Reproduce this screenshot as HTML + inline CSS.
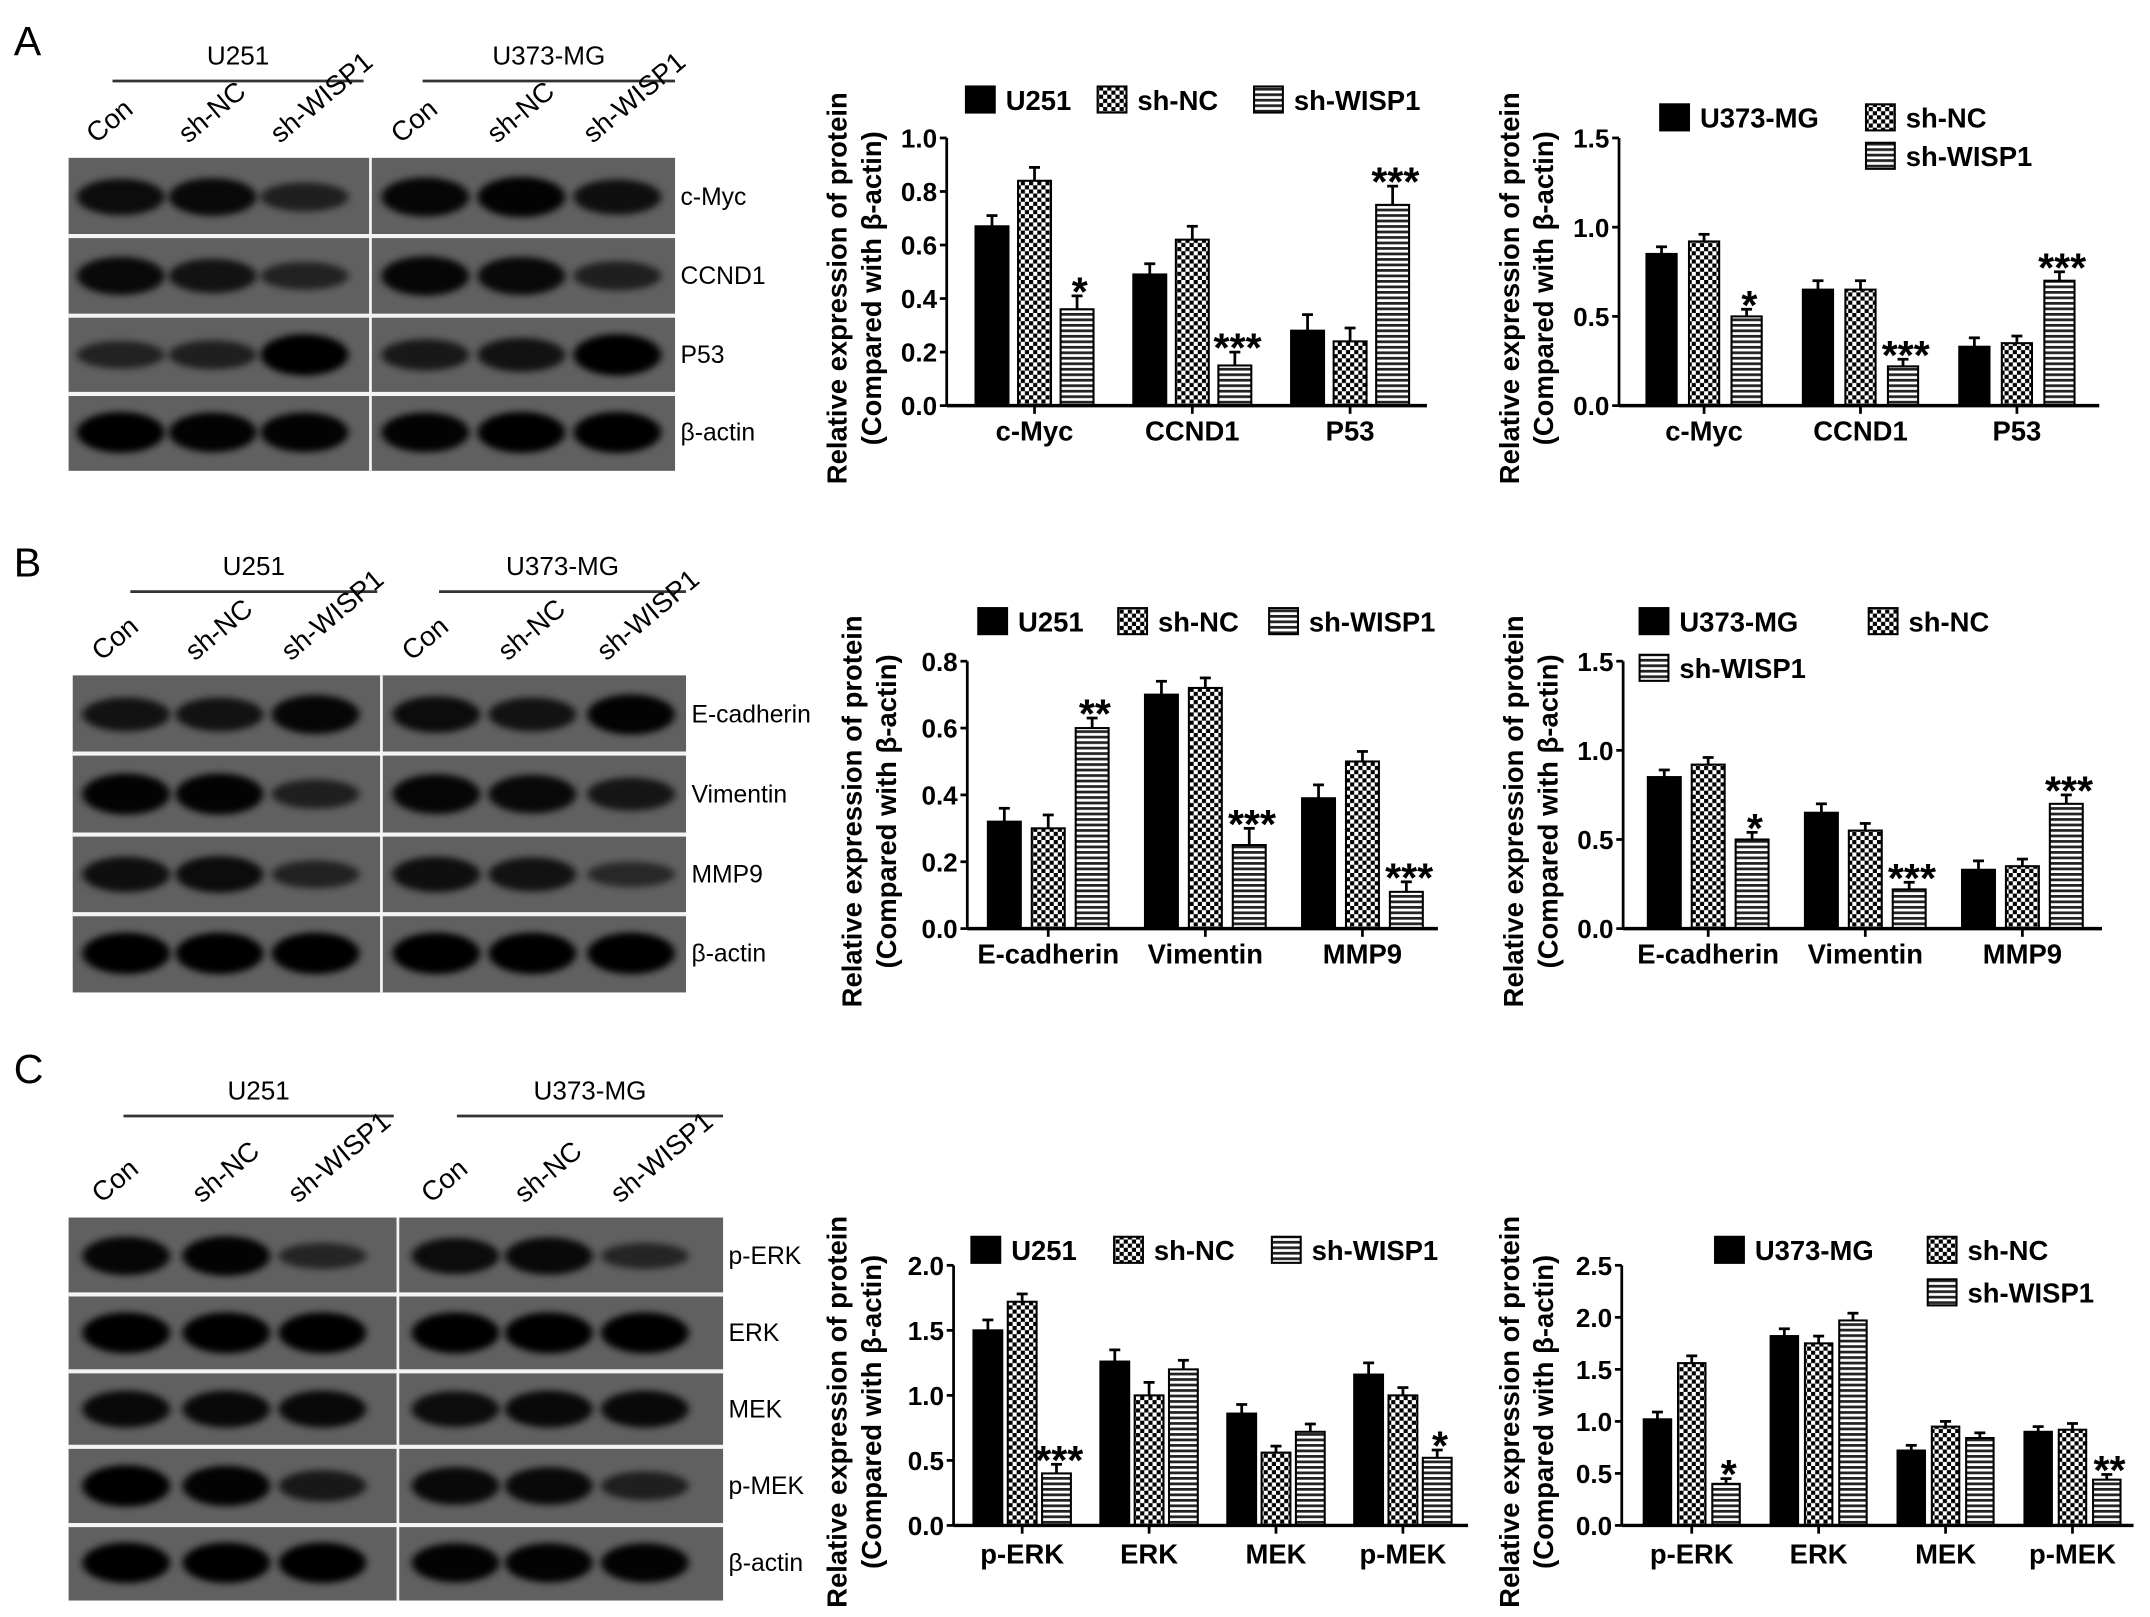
<!DOCTYPE html>
<html><head><meta charset="utf-8"><style>
html,body{margin:0;padding:0;background:#fff;}
svg{display:block;}
text{font-family:"Liberation Sans",Arial,sans-serif;}
</style></head><body>
<svg id="fig" width="2150" height="1617" viewBox="0 0 1567 1178" preserveAspectRatio="none" xmlns="http://www.w3.org/2000/svg">
<defs>
<pattern id="chk" width="6" height="6" patternUnits="userSpaceOnUse"><rect width="6" height="6" fill="#fff"/><rect width="3" height="3" fill="#000"/><rect x="3" y="3" width="3" height="3" fill="#000"/></pattern>
<pattern id="hs" width="4" height="4" patternUnits="userSpaceOnUse"><rect width="4" height="4" fill="#fff"/><rect width="4" height="2" fill="#222"/></pattern>
<filter id="blur" x="-20%" y="-50%" width="140%" height="200%"><feGaussianBlur stdDeviation="3 2.5"/></filter>
</defs>
<g id="root"></g>
</svg>
<script>
// ---- Chart data ----
const catsA = ["c-Myc","CCND1","P53"];
const a1Ctrl = [0.67,0.49,0.28];
const a1NC = [0.84,0.62,0.24];
const a1KD = [0.36,0.15,0.75];
const a1CtrlErr = [0.04,0.04,0.06];
const a1NCErr = [0.05,0.05,0.05];
const a1KDErr = [0.05,0.05,0.07];
const a1Stars = ["*","***","***"];
const a1Ticks = [0,0.2,0.4,0.6,0.8,1.0];

const a2Ctrl = [0.85,0.65,0.33];
const a2NC = [0.92,0.65,0.35];
const a2KD = [0.50,0.22,0.70];
const a2CtrlErr = [0.04,0.05,0.05];
const a2NCErr = [0.04,0.05,0.04];
const a2KDErr = [0.04,0.04,0.05];
const a2Stars = ["*","***","***"];
const a2Ticks = [0,0.5,1.0,1.5];

const catsB = ["E-cadherin","Vimentin","MMP9"];
const b1Ctrl = [0.32,0.70,0.39];
const b1NC = [0.30,0.72,0.50];
const b1KD = [0.60,0.25,0.11];
const b1CtrlErr = [0.04,0.04,0.04];
const b1NCErr = [0.04,0.03,0.03];
const b1KDErr = [0.03,0.05,0.03];
const b1Stars = ["**","***","***"];
const b1Ticks = [0,0.2,0.4,0.6,0.8];

const b2Ctrl = [0.85,0.65,0.33];
const b2NC = [0.92,0.55,0.35];
const b2KD = [0.50,0.22,0.70];
const b2CtrlErr = [0.04,0.05,0.05];
const b2NCErr = [0.04,0.04,0.04];
const b2KDErr = [0.04,0.04,0.05];
const b2Stars = ["*","***","***"];
const b2Ticks = [0,0.5,1.0,1.5];

const catsC = ["p-ERK","ERK","MEK","p-MEK"];
const c1Ctrl = [1.50,1.26,0.86,1.16];
const c1NC = [1.72,1.00,0.56,1.00];
const c1KD = [0.40,1.20,0.72,0.52];
const c1CtrlErr = [0.08,0.09,0.07,0.09];
const c1NCErr = [0.06,0.10,0.05,0.06];
const c1KDErr = [0.07,0.07,0.06,0.06];
const c1Stars = ["***","","","*"];
const c1Ticks = [0,0.5,1.0,1.5,2.0];

const c2Ctrl = [1.02,1.82,0.72,0.90];
const c2NC = [1.56,1.75,0.95,0.92];
const c2KD = [0.40,1.97,0.84,0.44];
const c2CtrlErr = [0.07,0.07,0.05,0.05];
const c2NCErr = [0.07,0.07,0.05,0.06];
const c2KDErr = [0.05,0.07,0.05,0.05];
const c2Stars = ["*","","","**"];
const c2Ticks = [0,0.5,1.0,1.5,2.0,2.5];

const NS="http://www.w3.org/2000/svg";
const root=document.getElementById('root');
function mk(tag,attrs,parent){const e=document.createElementNS(NS,tag);for(const k in attrs)e.setAttribute(k,attrs[k]);(parent||root).appendChild(e);return e;}
function txt(s,attrs,parent){const e=mk('text',attrs,parent);e.textContent=s;return e;}

function chart(o){
  const g=mk('g',{});
  
  
  const ymax=o.ticks[o.ticks.length-1];
  const Y=v=>o.y0-(v/ymax)*(o.y0-o.yTop);
  const X=(i,s)=>o.cx0+i*o.gap+(s-1)*o.d;
  const ya=mk('line',{x1:o.ax,y1:o.yTop,x2:o.ax,y2:o.y0,stroke:'#000','stroke-width':2},g);
  
  
  o.ticks.forEach(t=>{
    mk('line',{x1:o.ax-5,y1:Y(t),x2:o.ax,y2:Y(t),stroke:'#000','stroke-width':2},g);
    const tl=txt(t.toFixed(1),{x:o.ax-7,y:Y(t)+7,'text-anchor':'end','font-size':19,'font-weight':'bold'},g);
    
    
  });
  const fills=['#000','url(#chk)','url(#hs)'];
  const series=[o.s0,o.s1,o.s2], errs=[o.e0,o.e1,o.e2];
  o.cats.forEach((c,i)=>{
    for(let s=0;s<3;s++){
      const v=series[s][i], e=errs[s][i], cx=X(i,s);
      mk('line',{x1:cx,y1:Y(v),x2:cx,y2:Y(v+e),stroke:'#000','stroke-width':2},g);
      mk('line',{x1:cx-4,y1:Y(v+e),x2:cx+4,y2:Y(v+e),stroke:'#000','stroke-width':2},g);
      const b=mk('rect',{x:cx-o.w/2,y:Y(v),width:o.w,height:o.y0-Y(v),fill:fills[s],stroke:'#000','stroke-width':1.5},g);
      
      
      if(s===2&&o.stars[i]){
        const st=txt(o.stars[i],{x:cx+2,y:Y(v+e)+7,'text-anchor':'middle','font-size':30,'font-weight':'bold'},g);
        
        
      }
    }
    const cl=txt(c,{x:X(i,1),y:o.catY,'text-anchor':'middle','font-size':20,'font-weight':'bold'},g);
    
    
    mk('line',{x1:X(i,1),y1:o.y0,x2:X(i,1),y2:o.y0+6,stroke:'#000','stroke-width':2},g);
  });
  const xa=mk('line',{x1:o.ax,y1:o.y0,x2:o.axEnd,y2:o.y0,stroke:'#000','stroke-width':2.5},g);
  
  
  const my=(o.yTop+o.y0)/2+12;
  const t1=txt('Relative expression of  protein',{x:0,y:0,transform:`translate(${o.lx},${my}) rotate(-90)`,'text-anchor':'middle','font-size':20,'font-weight':'bold'},g);
  
  
  const t2=txt('(Compared with β-actin)',{x:0,y:0,transform:`translate(${o.lx+25},${my}) rotate(-90)`,'text-anchor':'middle','font-size':20,'font-weight':'bold'},g);
  
  
  o.legend.forEach((L,k)=>{
    const lg=mk('g',{},g);
    
    
    mk('rect',{x:L[0],y:L[1]-9,width:21,height:19,fill:fills[k],stroke:'#000','stroke-width':1.5},lg);
    txt(L[2],{x:L[0]+29,y:L[1]+8,'font-size':20,'font-weight':'bold'},lg);
  });
}

chart({name:'chart-a-u251',cats:catsA,s0:a1Ctrl,s1:a1NC,s2:a1KD,e0:a1CtrlErr,e1:a1NCErr,e2:a1KDErr,stars:a1Stars,ticks:a1Ticks,
  ax:690,axEnd:1040,yTop:100.5,y0:295.5,cx0:754,gap:115,d:31,w:24,catY:321,lx:617,
  legend:[[704,72,'U251'],[800,72,'sh-NC'],[914,72,'sh-WISP1']]});
chart({name:'chart-a-u373',cats:catsA,s0:a2Ctrl,s1:a2NC,s2:a2KD,e0:a2CtrlErr,e1:a2NCErr,e2:a2KDErr,stars:a2Stars,ticks:a2Ticks,
  ax:1180,axEnd:1530,yTop:100.5,y0:295.5,cx0:1242,gap:114,d:31,w:22,catY:321,lx:1107,
  legend:[[1210,85,'U373-MG'],[1360,85,'sh-NC'],[1360,113,'sh-WISP1']]});
chart({name:'chart-b-u251',cats:catsB,s0:b1Ctrl,s1:b1NC,s2:b1KD,e0:b1CtrlErr,e1:b1NCErr,e2:b1KDErr,stars:b1Stars,ticks:b1Ticks,
  ax:705,axEnd:1048,yTop:481.7,y0:676.5,cx0:764,gap:114.5,d:32,w:24,catY:702,lx:628,
  legend:[[713,452,'U251'],[815,452,'sh-NC'],[925,452,'sh-WISP1']]});
chart({name:'chart-b-u373',cats:catsB,s0:b2Ctrl,s1:b2NC,s2:b2KD,e0:b2CtrlErr,e1:b2NCErr,e2:b2KDErr,stars:b2Stars,ticks:b2Ticks,
  ax:1183,axEnd:1532,yTop:481.7,y0:676.5,cx0:1245,gap:114.5,d:32,w:24,catY:702,lx:1110,
  legend:[[1195,452,'U373-MG'],[1362,452,'sh-NC'],[1195,486,'sh-WISP1']]});
chart({name:'chart-c-u251',cats:catsC,s0:c1Ctrl,s1:c1NC,s2:c1KD,e0:c1CtrlErr,e1:c1NCErr,e2:c1KDErr,stars:c1Stars,ticks:c1Ticks,
  ax:695,axEnd:1070,yTop:921.8,y0:1111.3,cx0:745,gap:92.5,d:25,w:21,catY:1139,lx:617,
  legend:[[708,910,'U251'],[812,910,'sh-NC'],[927,910,'sh-WISP1']]});
chart({name:'chart-c-u373',cats:catsC,s0:c2Ctrl,s1:c2NC,s2:c2KD,e0:c2CtrlErr,e1:c2NCErr,e2:c2KDErr,stars:c2Stars,ticks:c2Ticks,
  ax:1182,axEnd:1555,yTop:921.8,y0:1111.3,cx0:1233,gap:92.5,d:25,w:20,catY:1139,lx:1107,
  legend:[[1250,910,'U373-MG'],[1405,910,'sh-NC'],[1405,941,'sh-WISP1']]});

// ---- Western blots ----
const blotA=["c-Myc","CCND1","P53","β-actin"];
const blotB=["E-cadherin","Vimentin","MMP9","β-actin"];
const blotC=["p-ERK","ERK","MEK","p-MEK","β-actin"];
const bandA=[[0.8,0.85,0.5,0.9,0.95,0.75],[0.85,0.7,0.45,0.9,0.85,0.5],[0.45,0.5,1,0.6,0.7,1],[1,0.95,0.95,0.95,1,1]];
const bandB=[[0.7,0.7,0.9,0.8,0.7,0.95],[0.95,0.95,0.5,0.9,0.85,0.65],[0.75,0.8,0.45,0.75,0.7,0.35],[1,1,1,1,1,1]];
const bandC=[[0.9,0.95,0.4,0.8,0.85,0.4],[1,1,1,1,1,1],[0.85,0.85,0.85,0.8,0.85,0.85],[1,0.95,0.6,0.85,0.85,0.5],[1,1,1,0.95,0.95,0.95]];

function blot(o){
  const g=mk('g',{});
  
  
  txt(o.letter,{x:o.letterX,y:o.letterY,'font-size':30},g);
  [['U251',o.h1],['U373-MG',o.h2]].forEach(([s,h])=>{
    const t=txt(s,{x:(h[0]+h[1])/2,y:o.hy-12,'text-anchor':'middle','font-size':19},g);
    
    
    mk('line',{x1:h[0],y1:o.hy,x2:h[1],y2:o.hy,stroke:'#333','stroke-width':2},g);
  });
  const lanes=o.lanes, lab=['Con','sh-NC','sh-WISP1'];
  lanes.forEach((lx,i)=>{
    const t=txt(lab[i%3],{x:0,y:0,transform:`translate(${lx-18},${o.top-10}) rotate(-40)`,'font-size':20},g);
    
    
  });
  const bg=mk('rect',{x:o.x0,y:o.top,width:o.x1-o.x0,height:o.rows[o.rows.length-1]-o.top,fill:'#606060'},g);
  
  
  let prev=o.top;
  o.rows.forEach((ry,r)=>{
    const cy=(prev+ry)/2;
    lanes.forEach((lx,i)=>{
      const a=o.bands[r][i];
      mk('ellipse',{cx:lx,cy:cy,rx:32,ry:6+a*(ry-prev)*0.16,fill:'#000',opacity:0.35+0.65*a,filter:'url(#blur)'},g);
    });
    if(r<o.rows.length-1) mk('line',{x1:o.x0,y1:ry,x2:o.x1,y2:ry,stroke:'#f4f4f4','stroke-width':3},g);
    const t=txt(o.labels[r],{x:o.x1+4,y:cy+6,'font-size':18},g);
    
    
    prev=ry;
  });
  mk('line',{x1:o.div,y1:o.top,x2:o.div,y2:o.rows[o.rows.length-1],stroke:'#f4f4f4','stroke-width':2},g);
}
blot({name:'blot-a',letter:'A',letterX:10,letterY:40,h1:[82,265],h2:[308,492],hy:59,top:115,x0:50,x1:492,div:270,
  lanes:[88,155,222,310,380,450],rows:[172,230,287,343],labels:blotA,bands:bandA});
blot({name:'blot-b',letter:'B',letterX:10,letterY:420,h1:[95,275],h2:[320,500],hy:431,top:492,x0:53,x1:500,div:278,
  lanes:[92,160,230,318,388,460],rows:[549,608,666,723],labels:blotB,bands:bandB});
blot({name:'blot-c',letter:'C',letterX:10,letterY:789,h1:[90,287],h2:[333,527],hy:813,top:887,x0:50,x1:527,div:290,
  lanes:[92,165,235,332,400,470],rows:[943,999,1054,1111,1166],labels:blotC,bands:bandC});
</script>
</body></html>
